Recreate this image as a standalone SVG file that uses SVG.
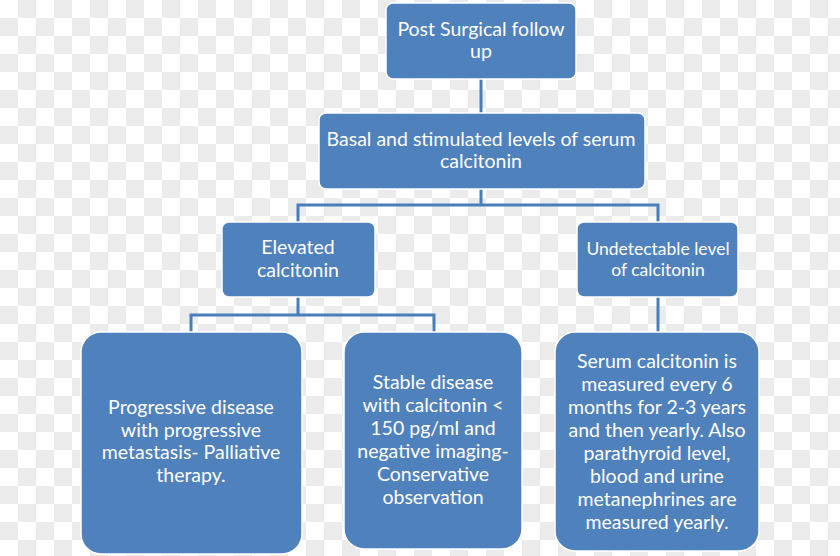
<svg xmlns="http://www.w3.org/2000/svg" width="840" height="556" viewBox="0 0 840 556">
<style>
.box{fill:#4f81bd;stroke:#ffffff;stroke-width:1.5}
.t{font-family:Lato,"Open Sans","Liberation Sans",sans-serif;font-size:19.5px;fill:#ffffff;text-anchor:middle}
.s{font-size:17.5px}
.c{fill:none;stroke:#4a7ebb;stroke-width:3}
</style>
<defs>
<pattern id="chk" x="0" y="0" width="36" height="36" patternUnits="userSpaceOnUse">
<rect width="36" height="36" fill="#ffffff"/>
<rect x="18" y="0" width="18" height="18" fill="#ebebeb"/>
<rect x="0" y="18" width="18" height="18" fill="#ebebeb"/>
</pattern>
</defs>
<rect width="840" height="556" fill="url(#chk)"/>
<g id="connectors">
<path class="c" d="M481 79V113"/>
<path class="c" d="M481 189V205M298 222V205H658V222"/>
<path class="c" d="M298 297V315M191 332V315H434V332"/>
<path class="c" d="M658 297V332"/>
</g>
<g id="post">
<rect class="box" x="386" y="3" width="190" height="76" rx="7"/>
<text class="t" x="481" y="36">Post Surgical follow</text>
<text class="t" x="481" y="58">up</text>
</g>
<g id="basal">
<rect class="box" x="319" y="113" width="326" height="76" rx="7"/>
<text class="t" x="481" y="146">Basal and stimulated levels of serum</text>
<text class="t" x="481" y="168">calcitonin</text>
</g>
<g id="elevated">
<rect class="box" x="222" y="222" width="153" height="75" rx="7"/>
<text class="t" x="298" y="254">Elevated</text>
<text class="t" x="298" y="277">calcitonin</text>
</g>
<g id="undetectable">
<rect class="box" x="577" y="222" width="161" height="75" rx="7"/>
<text class="t s" x="658" y="255">Undetectable level</text>
<text class="t s" x="658" y="276">of calcitonin</text>
</g>
<g id="progressive">
<rect class="box" x="81" y="332" width="221" height="222" rx="20"/>
<text class="t" x="191" y="414">Progressive disease</text>
<text class="t" x="191" y="437">with progressive</text>
<text class="t" x="191" y="459">metastasis- Palliative</text>
<text class="t" x="191" y="482">therapy.</text>
</g>
<g id="stable">
<rect class="box" x="344" y="332" width="178" height="217" rx="20"/>
<text class="t" x="433" y="389">Stable disease</text>
<text class="t" x="433" y="412">with calcitonin &lt;</text>
<text class="t" x="433" y="435">150 pg/ml and</text>
<text class="t" x="433" y="458">negative imaging-</text>
<text class="t" x="433" y="481">Conservative</text>
<text class="t" x="433" y="504">observation</text>
</g>
<g id="serum">
<rect class="box" x="555" y="332" width="204" height="219" rx="20"/>
<text class="t" x="657" y="368">Serum calcitonin is</text>
<text class="t" x="657" y="391">measured every 6</text>
<text class="t" x="657" y="414">months for 2-3 years</text>
<text class="t" x="657" y="437">and then yearly. Also</text>
<text class="t" x="657" y="460">parathyroid level,</text>
<text class="t" x="657" y="483">blood and urine</text>
<text class="t" x="657" y="506">metanephrines are</text>
<text class="t" x="657" y="529">measured yearly.</text>
</g>
</svg>
